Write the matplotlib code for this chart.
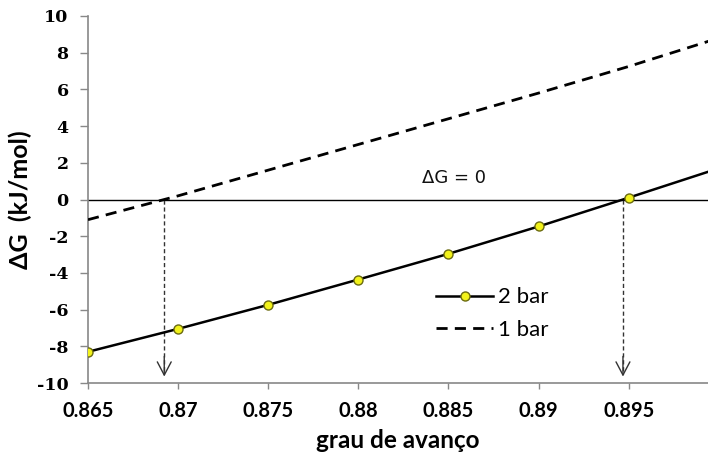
import numpy as np
import matplotlib
matplotlib.use("Agg")
import matplotlib.pyplot as plt

# dados
grau = [0.865, 0.870, 0.875, 0.880, 0.885, 0.890, 0.895, 0.900]
dg_2bar = [-8.3, -7.05, -5.74, -4.36, -2.96, -1.47, 0.10, 1.70]
dg_1bar = [-1.10, 0.20, 1.60, 3.00, 4.40, 5.80, 7.25, 8.80]
xticks = [0.865, 0.87, 0.875, 0.88, 0.885, 0.89, 0.895]
xtick_labels = ["0.865", "0.87", "0.875", "0.88", "0.885", "0.89", "0.895"]
yticks = list(range(-10, 11, 2))

plt.rcParams["font.family"] = ["Lato", "DejaVu Sans"]
plt.rcParams["font.weight"] = "bold"
plt.rcParams["axes.labelweight"] = "bold"
plt.rcParams["xtick.labelsize"] = 14.5
plt.rcParams["ytick.labelsize"] = 12.5

fig = plt.figure(figsize=(7.08, 4.61), dpi=100)
ax = fig.add_axes([88 / 708, 78 / 461, 620 / 708, 367 / 461])

ax.plot(grau, dg_2bar, color="black", lw=1.8, marker="o", markevery=range(7),
        markersize=6.5, markerfacecolor="#f2f21a", markeredgecolor="#6b6b10",
        markeredgewidth=1, label="2 bar", zorder=4)
ax.plot(grau, dg_1bar, color="black", lw=2, dashes=(4, 2.6), label="1 bar", zorder=3)

# linha de dG = 0
ax.axhline(0, color="black", lw=1, zorder=2)
ax.text(0.8853, 1.15, "ΔG = 0", fontsize=13, family="DejaVu Sans", fontweight="normal",
        ha="center", va="center", color="#111111")

# setas nos pontos de equilibrio
for serie in (dg_1bar, dg_2bar):
    x0 = np.interp(0, serie, grau)
    ax.plot([x0, x0], [0, -9.5], color="#333333", lw=1, dashes=(3, 2), zorder=2)
    ax.annotate("", xy=(x0, -9.8), xytext=(x0, -8.4),
                arrowprops=dict(arrowstyle="->,head_length=0.95,head_width=0.5",
                                color="#333333", lw=1))

ax.set_xlim(0.865, 0.8994)
ax.set_ylim(-10, 10)
ax.set_xticks(xticks, xtick_labels)
ax.set_yticks(yticks, [str(v) for v in yticks])
ax.tick_params(axis="x", length=4, width=1, color="#888888", pad=9)
ax.tick_params(axis="y", length=6, width=1, color="#888888", pad=8,
               labelfontfamily="DejaVu Serif")

for s in ["top", "right"]:
    ax.spines[s].set_visible(False)
for s in ["left", "bottom"]:
    ax.spines[s].set_color("#888888")
    ax.spines[s].set_linewidth(1.2)

ax.set_xlabel("grau de avanço", fontsize=17.5)
ax.xaxis.set_label_coords(0.5, -0.125)
ax.set_ylabel("ΔG  (kJ/mol)", fontsize=18)
ax.yaxis.set_label_coords(-0.09, 0.5)

ax.legend(loc="upper left", bbox_to_anchor=(0.5465, 0.285), borderaxespad=0, frameon=False,
          handlelength=2.6, handletextpad=0.2, labelspacing=0.55,
          prop={"family": "Lato", "weight": "normal", "size": 16})

fig.savefig("out.png", dpi=100)
